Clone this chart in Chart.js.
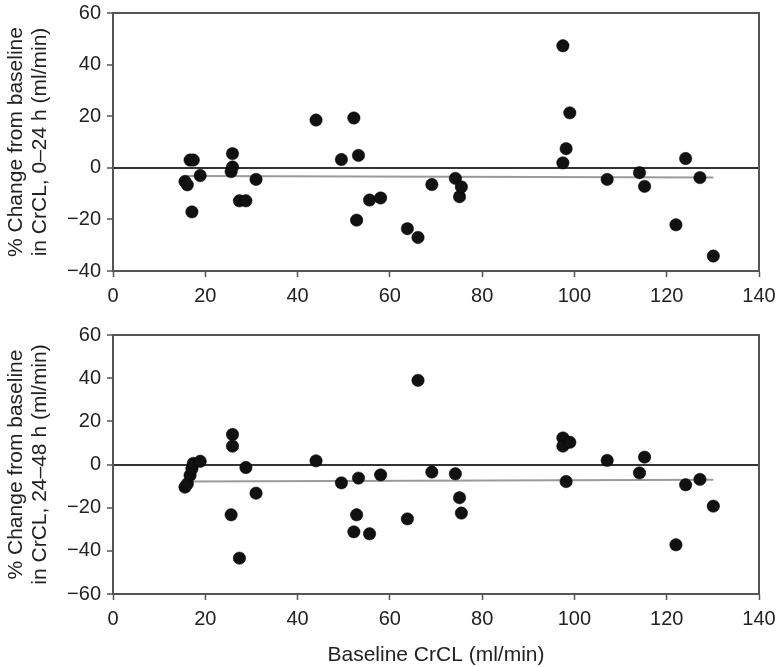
<!DOCTYPE html>
<html>
<head>
<meta charset="utf-8">
<script src="https://cdn.jsdelivr.net/npm/chart.js@4"></script>
<style>
  html, body { margin: 0; padding: 0; background: #fff; }
  #wrap { position: relative; width: 777px; height: 667px; }
  .panel { position: absolute; left: 0; width: 777px; }
  #top { top: 0; height: 318px; }
  #bottom { top: 318px; height: 349px; }
</style>
</head>
<body>
<div id="wrap">
  <div class="panel" id="top"><canvas id="chart-top"></canvas></div>
  <div class="panel" id="bottom"><canvas id="chart-bottom"></canvas></div>
</div>
<script>
// same patients in both panels, same order
const baselineCrCL = [15.6, 16.1, 16.7, 17.1, 17.4, 18.9, 25.6, 25.9, 25.9, 27.4, 28.8, 31.0,
  44.0, 49.5, 52.2, 52.8, 53.2, 55.6, 58.0, 63.8, 66.1, 69.1, 74.2, 75.1, 75.5,
  97.5, 97.5, 98.2, 99.0, 107.1, 114.1, 115.2, 122.0, 124.1, 127.2, 130.1];
const change0to24 = [-5.3, -6.6, 3.0, -17.1, 3.0, -3.0, -1.5, 5.5, 0.3, -12.8, -12.8, -4.5,
  18.5, 3.2, 19.3, -20.3, 4.8, -12.5, -11.7, -23.6, -27.0, -6.5, -4.1, -11.2, -7.4,
  47.3, 1.9, 7.4, 21.3, -4.5, -1.9, -7.2, -22.1, 3.6, -3.8, -34.2];
const change24to48 = [-10.5, -9.0, -5.0, -2.0, 0.5, 1.5, -23.3, 13.9, 8.5, -43.4, -1.4, -13.3,
  1.7, -8.5, -31.2, -23.3, -6.3, -32.1, -4.8, -25.2, 39.0, -3.5, -4.3, -15.4, -22.5,
  12.3, 8.5, -7.9, 10.3, 1.9, -3.9, 3.4, -37.2, -9.4, -6.9, -19.3];

// regression lines
const fitX = [15.6, 130.1];
const fit0to24 = [-3.2, -3.8];
const fit24to48 = [-7.9, -7.1];

const xTicks = [0, 20, 40, 60, 80, 100, 120, 140];
const yTicksTop = [-40, -20, 0, 20, 40, 60];
const yTicksBottom = [-60, -40, -20, 0, 20, 40, 60];

const FONT = 'Liberation Sans, Arial, sans-serif';
const AXIS = '#555';

// top and right edges of the box
const framePlugin = {
  id: 'frame',
  beforeDatasetsDraw(chart) {
    const {ctx, chartArea: a} = chart;
    ctx.save();
    ctx.strokeStyle = AXIS;
    ctx.lineWidth = 2;
    ctx.beginPath();
    ctx.moveTo(a.left, a.top);
    ctx.lineTo(a.right, a.top);
    ctx.lineTo(a.right, a.bottom);
    ctx.stroke();
    ctx.restore();
  }
};

function makeChart(id, yValues, fitY, yTicks, yTitle, xTitle, padTop, xHeight) {
  const points = baselineCrCL.map((x, i) => ({x: x, y: yValues[i]}));
  const fit = fitX.map((x, i) => ({x: x, y: fitY[i]}));

  return new Chart(document.getElementById(id), {
    type: 'scatter',
    data: {
      datasets: [
        {
          data: points,
          backgroundColor: '#111',
          borderColor: '#000',
          borderWidth: 0.5,
          pointRadius: 6.2,
          order: 1
        },
        {
          type: 'line',
          data: fit,
          borderColor: '#9a9a9a',
          borderWidth: 2,
          pointRadius: 0,
          fill: false,
          order: 2
        }
      ]
    },
    options: {
      responsive: true,
      maintainAspectRatio: false,
      animation: false,
      layout: { padding: { top: padTop, right: 18, left: 0, bottom: 0 } },
      plugins: { legend: { display: false }, tooltip: { enabled: false } },
      scales: {
        x: {
          type: 'linear',
          min: xTicks[0],
          max: xTicks[xTicks.length - 1],
          afterFit: s => { s.height = xHeight; s.paddingLeft = 0; s.paddingRight = 0; },
          afterBuildTicks: s => { s.ticks = xTicks.map(v => ({value: v})); },
          border: { color: AXIS, width: 2 },
          grid: { drawOnChartArea: false, tickLength: 6, tickColor: AXIS, tickWidth: 1.5 },
          ticks: { color: '#222', font: { family: FONT, size: 20 }, padding: 7, maxRotation: 0 },
          title: {
            display: !!xTitle,
            text: xTitle || '',
            color: '#222',
            font: { family: FONT, size: 21, lineHeight: 1.14 },
            padding: { top: 4, bottom: 0 }
          }
        },
        y: {
          min: yTicks[0],
          max: yTicks[yTicks.length - 1],
          afterFit: s => { s.width = 113; s.paddingTop = 0; s.paddingBottom = 0; },
          afterBuildTicks: s => { s.ticks = yTicks.map(v => ({value: v})); },
          border: { color: AXIS, width: 2 },
          grid: {
            color: c => (c.tick && c.tick.value === 0) ? '#333' : 'rgba(0,0,0,0)',
            lineWidth: 2,
            tickLength: 6,
            tickColor: AXIS,
            tickWidth: 1.5
          },
          ticks: {
            color: '#222',
            font: { family: FONT, size: 20, lineHeight: 1 },
            padding: 6,
            callback: v => v < 0 ? '\u2212' + Math.abs(v) : String(v)
          },
          title: {
            display: true,
            text: yTitle,
            color: '#222',
            font: { family: FONT, size: 21, lineHeight: 1.14 },
            padding: { top: 4, bottom: 0 }
          }
        }
      }
    },
    plugins: [framePlugin]
  });
}

makeChart('chart-top', change0to24, fit0to24, yTicksTop,
  ['% Change from baseline', 'in CrCL, 0\u201324 h (ml/min)'], null, 13, 47);
makeChart('chart-bottom', change24to48, fit24to48, yTicksBottom,
  ['% Change from baseline', 'in CrCL, 24\u201348 h (ml/min)'], 'Baseline CrCL (ml/min)', 17, 73);
</script>
</body>
</html>
